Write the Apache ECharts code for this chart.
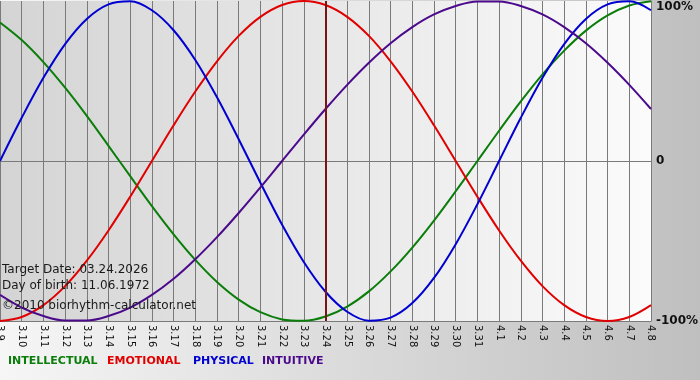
<!DOCTYPE html>
<html>
<head>
<meta charset="utf-8">
<script src="https://cdn.jsdelivr.net/npm/echarts@6/dist/echarts.min.js"></script>
<style>html,body{margin:0;padding:0;background:#fff}#c{width:700px;height:380px}</style>
</head>
<body>
<div id="c"></div>
<script>
var days = ['3.9','3.10','3.11','3.12','3.13','3.14','3.15','3.16','3.17','3.18','3.19','3.20','3.21','3.22','3.23','3.24','3.25','3.26','3.27','3.28','3.29','3.30','3.31','4.1','4.2','4.3','4.4','4.5','4.6','4.7','4.8'];
var intellectual = [0.866,0.756,0.618,0.458,0.282,0.095,-0.095,-0.282,-0.458,-0.618,-0.756,-0.866,-0.945,-0.990,-0.999,-0.972,-0.910,-0.815,-0.690,-0.541,-0.372,-0.189,0,0.189,0.372,0.541,0.690,0.815,0.910,0.972,0.999];
var emotional = [-1,-0.975,-0.901,-0.782,-0.623,-0.434,-0.223,0,0.223,0.434,0.623,0.782,0.901,0.975,1,0.975,0.901,0.782,0.623,0.434,0.223,0,-0.223,-0.434,-0.623,-0.782,-0.901,-0.975,-1,-0.975,-0.901];
var physical = [0,0.270,0.520,0.731,0.888,0.979,0.998,0.942,0.817,0.631,0.398,0.136,-0.136,-0.398,-0.631,-0.817,-0.942,-0.998,-0.979,-0.888,-0.731,-0.520,-0.270,0,0.270,0.520,0.731,0.888,0.979,0.998,0.942];
var intuitive = [-0.837,-0.916,-0.969,-0.997,-0.997,-0.969,-0.916,-0.837,-0.736,-0.614,-0.476,-0.325,-0.165,0,0.165,0.325,0.476,0.614,0.736,0.837,0.916,0.969,0.997,0.997,0.969,0.916,0.837,0.736,0.614,0.476,0.325];
var targetDay = '3.24';
var yTicks = {'1':'100%','0':'0','-1':'-100%'};
var infoLines = ['Target Date: 03.24.2026','Day of birth: 11.06.1972','\u00a92010 biorhythm-calculator.net'];
var legendNames = ['INTELLECTUAL','EMOTIONAL','PHYSICAL','INTUITIVE'];
var colors = ['#0a7d0a','#e00000','#0000d0','#4b0a8c'];

var chart = echarts.init(document.getElementById('c'), null, {renderer:'canvas'});
var fontFam = 'Verdana, "DejaVu Sans", sans-serif';
function mk(name, data, color, extra){
  var s = {name:name, type:'line', data:data, smooth:0.35, symbol:'none', z:3,
    lineStyle:{color:color, width:2}, itemStyle:{color:color}};
  if (extra) for (var k in extra) s[k]=extra[k];
  return s;
}
chart.setOption({
  animation:false,
  backgroundColor:{type:'linear',x:0,y:0,x2:1,y2:0,colorStops:[{offset:0,color:'#f6f6f6'},{offset:1,color:'#bfbfbf'}]},
  grid:{left:0,right:49,top:1,bottom:59,show:true,borderWidth:0,containLabel:false,outerBoundsMode:'none',
    backgroundColor:{type:'linear',x:0,y:0,x2:1,y2:0,colorStops:[{offset:0,color:'#d4d4d4'},{offset:1,color:'#fbfbfb'}]}},
  xAxis:{type:'category',data:days,boundaryGap:false,
    axisLine:{show:true,lineStyle:{color:'#7a7a7a',width:1}},
    axisTick:{show:true,length:4,lineStyle:{color:'#7a7a7a'}},
    splitLine:{show:true,lineStyle:{color:'#7a7a7a',width:1}},
    axisLabel:{rotate:-90,margin:4,interval:0,color:'#111',fontFamily:fontFam,fontSize:10}},
  yAxis:{type:'value',position:'right',min:-1,max:1,interval:1,
    axisLine:{show:true,lineStyle:{color:'#7a7a7a',width:1}},
    axisTick:{show:false},
    splitLine:{show:true,lineStyle:{color:['#7a7a7a','#7a7a7a','rgba(0,0,0,0)'],width:1}},
    axisLabel:{margin:5,color:'#111',fontWeight:'bold',fontFamily:fontFam,fontSize:12,
      verticalAlignMaxLabel:'top',
      formatter:function(v){return yTicks[String(v)];}}},
  graphic:[
    {type:'text',left:2,top:264,z:10,style:{text:infoLines[0],fill:'#1a1a1a',font:'12px '+fontFam}},
    {type:'text',left:2,top:280,z:10,style:{text:infoLines[1],fill:'#1a1a1a',font:'12px '+fontFam}},
    {type:'text',left:2,top:300,z:10,style:{text:infoLines[2],fill:'#1a1a1a',font:'12px '+fontFam}},
    {type:'text',left:8,top:356,style:{text:legendNames[0],fill:colors[0],font:'bold 11px '+fontFam}},
    {type:'text',left:107,top:356,style:{text:legendNames[1],fill:colors[1],font:'bold 11px '+fontFam}},
    {type:'text',left:193,top:356,style:{text:legendNames[2],fill:colors[2],font:'bold 11px '+fontFam}},
    {type:'text',left:262,top:356,style:{text:legendNames[3],fill:colors[3],font:'bold 11px '+fontFam}}
  ],
  series:[
    mk(legendNames[0], intellectual, colors[0]),
    mk(legendNames[1], emotional, colors[1]),
    mk(legendNames[2], physical, colors[2]),
    mk(legendNames[3], intuitive, colors[3], {markLine:{silent:true,symbol:'none',label:{show:false},
      lineStyle:{color:'#7a1515',width:2,type:'solid'},data:[{xAxis:targetDay}]}})
  ]
});
</script>
</body>
</html>
